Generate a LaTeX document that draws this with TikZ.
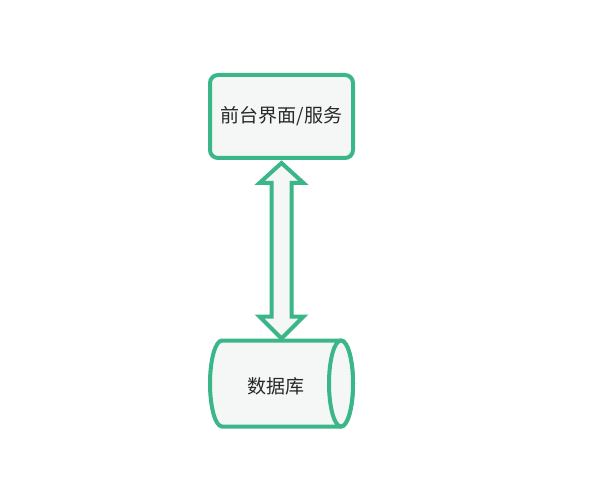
\documentclass[tikz,border=0pt]{standalone}
\usepackage{fontspec}
\newfontfamily\cjk{Noto Sans CJK SC}
\usetikzlibrary{calc}
\definecolor{edgegreen}{RGB}{58,182,137}
\definecolor{boxfill}{RGB}{245,247,247}
\definecolor{txt}{RGB}{40,40,40}
\tikzset{
  boxstyle/.style={draw=edgegreen, line width=4pt, fill=boxfill, rounded corners=8pt,
    minimum width=143pt, minimum height=83pt, font=\cjk\fontsize{19}{21}\selectfont, text=txt, inner sep=0pt},
  labelstyle/.style={font=\cjk\fontsize{19}{21}\selectfont, text=txt, inner sep=0pt},
  shapestyle/.style={draw=edgegreen, line width=4pt, fill=boxfill},
  arrowstyle/.style={draw=edgegreen, line width=4pt, fill=boxfill, line join=miter}
}
\begin{document}
\begin{tikzpicture}[x=1pt,y=-1pt]
\useasboundingbox (0,0) rectangle (592,500);
\node[boxstyle] (front) at (281.5,116.5) {\raisebox{-2.5pt}{前台界面/服务}};
% database cylinder drawn directly
\coordinate (dbc) at (281.5,383.5);
\draw[shapestyle] ($(dbc)+(59.5,-43)$) -- ($(dbc)+(-59.5,-43)$)
  arc (270:90:12 and 43) -- ($(dbc)+(59.5,43)$) arc (90:-90:12 and 43) -- cycle;
\draw[shapestyle] ($(dbc)+(59.5,0)$) ellipse (12 and 43);
\node[labelstyle] (db) at (275.5,386) {数据库};
\coordinate (ttip) at ($(front.south)+(0,3)$);
\coordinate (btip) at ($(dbc)+(0,-45)$);
\draw[arrowstyle] (ttip) -- ++(22,20) -- ++(-12,0) |- ($(btip)+(10,-22)$) -- ++(12,0)
  -- (btip) -- ++(-22,-22) -- ++(12,0) |- ($(ttip)+(-10,20)$) -- ++(-12,0) -- cycle;
\end{tikzpicture}
\end{document}
